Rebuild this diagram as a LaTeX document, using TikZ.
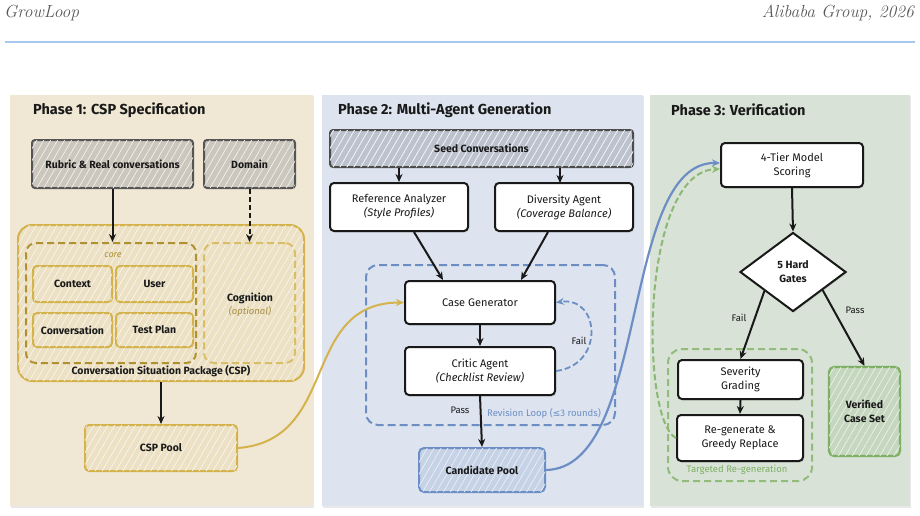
\documentclass[tikz,border=0pt]{standalone}
\usepackage{fontspec}
\setsansfont{Fira Sans}
\newfontfamily\symf{DejaVu Sans}
\usetikzlibrary{patterns.meta,arrows.meta,shapes.geometric,shadows,calc}
\definecolor{pone}{RGB}{240,232,212}
\definecolor{ptwo}{RGB}{221,228,239}
\definecolor{pthree}{RGB}{216,226,214}
\definecolor{gold}{RGB}{212,178,76}
\definecolor{golddk}{RGB}{176,145,50}
\definecolor{goldfill}{RGB}{236,225,196}
\definecolor{grayfill}{RGB}{204,199,189}
\definecolor{grayline}{RGB}{85,85,85}
\definecolor{seedfill}{RGB}{188,194,206}
\definecolor{blueln}{RGB}{108,142,196}
\definecolor{bluefill}{RGB}{198,210,230}
\definecolor{greenln}{RGB}{126,176,100}
\definecolor{greenfill}{RGB}{198,215,192}
\definecolor{headblue}{RGB}{168,200,240}
\definecolor{ink}{RGB}{25,25,25}
\definecolor{headgray}{RGB}{90,90,90}
\begin{document}
\begin{tikzpicture}[x=1pt,y=-1pt,
  bodyfont/.style={font=\sffamily\fontsize{11}{13}\selectfont},
  boldfont/.style={font=\sffamily\bfseries\fontsize{10.5}{13}\selectfont},
  hatch/.style={postaction={pattern={Lines[angle=60,distance=6pt,line width=0.7pt]},pattern color=#1}},
  panel/.style={draw=none, inner sep=0pt, drop shadow={opacity=0.18,shadow xshift=1pt,shadow yshift=-1.5pt}},
  ptitle/.style={anchor=west, inner sep=0pt, font=\sffamily\bfseries\fontsize{14.5}{16}\selectfont, text=ink},
  graybox/.style={draw=grayline, line width=2pt, rounded corners=3pt, fill=grayfill, hatch=white!75!grayfill, boldfont, text=ink, align=center, inner sep=0pt},
  goldbox/.style={draw=gold, line width=2pt, rounded corners=4pt, fill=goldfill, hatch=white!70!goldfill, boldfont, text=ink, align=center, inner sep=0pt},
  whitebox/.style={draw=ink, line width=2pt, rounded corners=4pt, fill=white, bodyfont, text=ink, align=center, inner sep=0pt, drop shadow={opacity=0.2,shadow xshift=1pt,shadow yshift=-1.5pt}},
  arr/.style={draw=ink, line width=2pt, -{Stealth[length=8pt,width=7pt]}},
  lbl/.style={font=\sffamily\fontsize{9.5}{11}\selectfont, text=ink}
]
\useasboundingbox (0,0) rectangle (920,516);
\fill[white] (0,0) rectangle (920,516);

% header
\node[anchor=west, font=\itshape\fontsize{17.5}{20}\selectfont, text=headgray, inner sep=0pt] (hleft) at (4,13) {GrowLoop};
\node[anchor=east, font=\itshape\fontsize{17.5}{20}\selectfont, text=headgray, inner sep=0pt] (hright) at (914,13) {Alibaba Group, 2026};
\coordinate (rulea) at (5,42);
\coordinate (ruleb) at (915,42);
\draw[headblue, line width=1.3pt] (rulea) -- (ruleb);

% panels
\node[panel, fill=pone, minimum width=303, minimum height=411] (p1) at (161.5,300.5) {};
\node[panel, fill=ptwo, minimum width=321, minimum height=411] (p2) at (482.5,300.5) {};
\node[panel, fill=pthree, minimum width=260, minimum height=411] (p3) at (780,300.5) {};
\node[ptitle] (t1) at (33,110) {Phase 1: CSP Specification};
\node[ptitle] (t2) at (338,110) {Phase 2: Multi-Agent Generation};
\node[ptitle] (t3) at (671,110) {Phase 3: Verification};

% ---------- Phase 1
\node[graybox, minimum width=161, minimum height=48] (rubric) at (112.5,164) {Rubric \& Real conversations};
\node[graybox, minimum width=91, minimum height=48] (domain) at (249.5,164) {Domain};
\node[draw=gold, line width=2pt, rounded corners=14pt, fill=goldfill, hatch=white!65!goldfill, minimum width=286, minimum height=156, inner sep=0pt] (csp) at (161,303) {};
\node[draw=golddk, line width=2pt, dash pattern=on 7pt off 4pt, rounded corners=10pt, minimum width=170, minimum height=120, inner sep=0pt] (core) at (111,303) {};
\node[draw=gold!85!white, line width=2pt, dash pattern=on 7pt off 4pt, rounded corners=10pt, minimum width=91, minimum height=120, inner sep=0pt] (cog) at (249.5,303) {};
\node[font=\sffamily\itshape\fontsize{9}{10}\selectfont, text=golddk] (corelbl) at (113,255) {core};
\node[goldbox, minimum width=79, minimum height=36] (context) at (72.5,284) {Context};
\node[goldbox, minimum width=77, minimum height=36] (user) at (154.5,284) {User};
\node[goldbox, minimum width=79, minimum height=34] (conv) at (72.5,330) {Conversation};
\node[goldbox, minimum width=77, minimum height=34] (testplan) at (154.5,330) {Test Plan};
\node[boldfont, text=ink] (coglbl) at (250,298) {Cognition};
\node[font=\sffamily\itshape\fontsize{9.5}{11}\selectfont, text=golddk!80!gray] (optlbl) at (250,311) {(optional)};
\node[font=\sffamily\bfseries\fontsize{10.5}{12}\selectfont, text=ink] (csplbl) at (161,371) {Conversation Situation Package (CSP)};
\node[goldbox, minimum width=152, minimum height=46] (csppool) at (161,448) {CSP Pool};

\draw[arr] (rubric.south) -- (rubric.south |- core.north);
\draw[arr, dash pattern=on 5pt off 3pt] (domain.south) -- (cog.north);
\draw[arr] (csp.south) -- (csppool.north);

% ---------- Phase 2
\node[draw=blueln, line width=2pt, dash pattern=on 8pt off 4pt, rounded corners=12pt, minimum width=249, minimum height=160, inner sep=0pt] (revloop) at (490.5,345) {};
\node[graybox, draw=grayline!90!black, fill=seedfill, hatch=white!70!seedfill, minimum width=303, minimum height=37] (seed) at (481.5,148.5) {Seed Conversations};
\node[whitebox, minimum width=138, minimum height=48] (refan) at (399,207) {Reference Analyzer\\[1pt]\itshape (Style Profiles)};
\node[whitebox, minimum width=138, minimum height=48] (divag) at (564,207) {Diversity Agent\\[1pt]\itshape (Coverage Balance)};
\node[whitebox, minimum width=150, minimum height=43] (casegen) at (480,302.5) {Case Generator};
\node[whitebox, minimum width=150, minimum height=48] (critic) at (480,371) {Critic Agent\\[1pt]\itshape (Checklist Review)};
\node[draw=blueln, line width=2pt, rounded corners=5pt, fill=bluefill, hatch=white!65!bluefill, minimum width=126, minimum height=44, inner sep=0pt, boldfont, text=ink] (candpool) at (482,470) {Candidate Pool};

\draw[arr] (seed.south -| refan.north) -- (refan.north);
\draw[arr] (seed.south -| 560,0) -- (560,183);
\draw[arr] ($(refan.south)+(15,0)$) -- ($(casegen.north)+(-37,0)$);
\draw[arr] ($(divag.south)+(-16,0)$) -- ($(casegen.north)+(41,0)$);
\draw[arr] (casegen.south) -- (critic.north);
\draw[arr] (critic.south) -- (candpool.north);
\draw[blueln, line width=1.8pt, dash pattern=on 6pt off 3pt, -{Stealth[length=8pt,width=7pt]}] (critic.east) .. controls (605,365) and (600,296) .. (casegen.east);
\node[lbl] (faillbl) at (579,341) {Fail};
\node[lbl] (passlbl) at (460,410) {Pass};
\node[font=\sffamily\fontsize{9.5}{11}\selectfont, text=blueln] (revlbl) at (544,413) {Revision Loop ({\symf\fontsize{9}{11}\selectfont ≤}3 rounds)};

% ---------- Phase 3
\node[whitebox, minimum width=142, minimum height=44] (tier) at (792,165) {4-Tier Model\\[1pt]Scoring};
\node[diamond, draw=ink, line width=2pt, fill=white, minimum width=106, minimum height=79, inner sep=0pt, boldfont, text=ink, align=center, drop shadow={opacity=0.2,shadow xshift=1pt,shadow yshift=-1.5pt}] (gates) at (793,272) {5 Hard\\[1pt]Gates};
\node[draw=greenln!85!white, line width=2pt, dash pattern=on 7pt off 4pt, rounded corners=14pt, minimum width=144, minimum height=132, inner sep=0pt] (tgt) at (740,415) {};
\node[whitebox, minimum width=125, minimum height=39] (sev) at (740.5,379.5) {Severity\\[1pt]Grading};
\node[whitebox, minimum width=126, minimum height=46] (regen) at (740,438) {Re-generate \&\\[1pt]Greedy Replace};
\node[draw=greenln, line width=2.2pt, rounded corners=5pt, fill=greenfill, hatch=white!65!greenfill, minimum width=71, minimum height=89, inner sep=0pt, boldfont, text=ink, align=center] (verified) at (864.5,411.5) {Verified\\[1pt]Case Set};
\node[font=\sffamily\fontsize{9.5}{11}\selectfont, text=greenln] (tgtlbl) at (737,470) {Targeted Re-generation};

\draw[arr] (tier.south) -- (gates.north);
\draw[arr] ($(gates.south)!0.53!(gates.west)$) -- (sev.north);
\draw[arr] ($(gates.south)!0.55!(gates.east)$) -- (verified.north);
\draw[arr] (sev.south) -- (regen.north);
\node[lbl] (gfail) at (739,318) {Fail};
\node[lbl] (gpass) at (855,310) {Pass};

% ---------- cross-phase curves
\draw[gold, line width=2pt, -{Stealth[length=8pt,width=7pt]}] (csppool.east) .. controls (340,440) and (300,303) .. (casegen.west);
\draw[blueln, line width=2.2pt, -{Stealth[length=8pt,width=7pt]}] (candpool.east) .. controls (650,468) and (620,162) .. ($(tier.west)+(0,-2)$);
\draw[greenln!90!white, line width=2pt, dash pattern=on 6pt off 3pt, -{Stealth[length=8pt,width=7pt]}] (regen.west) .. controls (640,420) and (640,172) .. ($(tier.west)+(0,4)$);
\end{tikzpicture}
\end{document}
